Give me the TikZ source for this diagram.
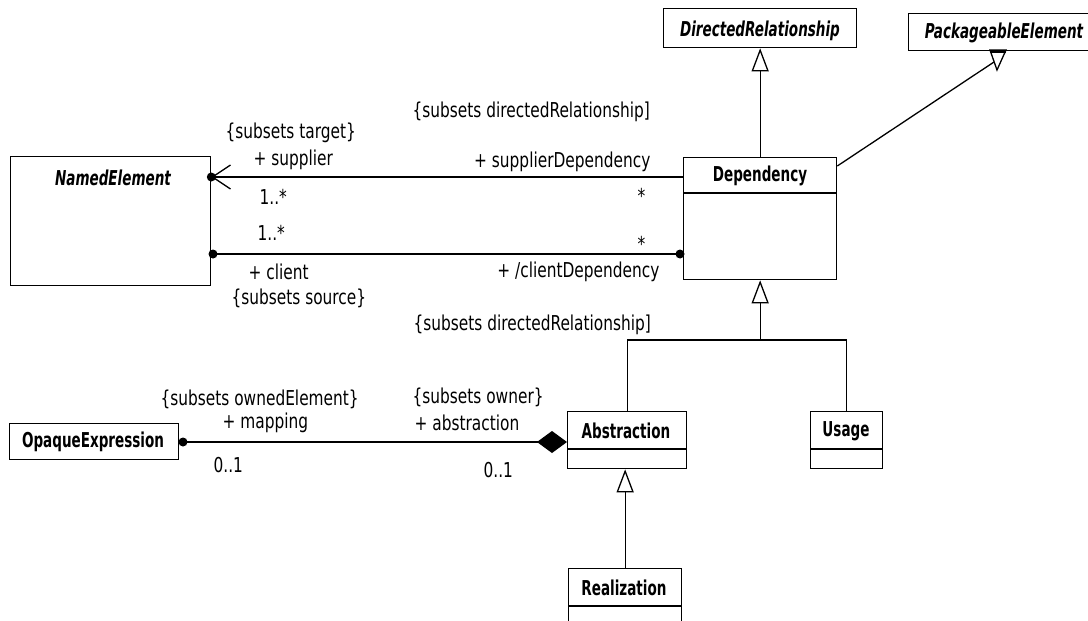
\documentclass[tikz,border=0pt]{standalone}
\usepackage{fontspec}
\setmainfont{DejaVu Sans}[FakeStretch=0.75]
\newfontfamily\clsfont{DejaVu Sans}[FakeStretch=0.66]
\usetikzlibrary{arrows.meta}
\tikzset{
  cls/.style={draw, fill=white, inner sep=0pt, anchor=north west},
  clsname/.style={font=\clsfont\bfseries\fontsize{20.5}{24}\selectfont, inner sep=0pt},
  absname/.style={font=\clsfont\bfseries\itshape\fontsize{20.5}{24}\selectfont, inner sep=0pt},
  lbl/.style={font=\fontsize{20.5}{24}\selectfont, inner sep=0pt, anchor=base west},
  lblr/.style={lbl, anchor=base east},
  gen/.style={-{Triangle[open,length=23pt,width=17pt]}},
  nav/.style={{Straight Barb[length=18pt,width=24pt]}-},
  dot/.style={fill, circle, inner sep=0pt, minimum size=9pt},
}
\begin{document}
\begin{tikzpicture}[x=1pt,y=-1pt,line width=1.3pt]
\useasboundingbox (0,0) rectangle (1088,621);
\clip (0,0) rectangle (1088,621);

% classes
\node[cls, minimum width=200pt, minimum height=129pt] (ne) at (10,156) {};
\node[absname] (netxt) at (113,178) {NamedElement};

\node[cls, minimum width=193pt, minimum height=39pt] (dr) at (663,8) {};
\node[absname] (drtxt) at (760,31) {DirectedRelationship};

\node[cls, minimum width=190pt, minimum height=37pt] (pe) at (908,13) {};
\node[absname] (petxt) at (1004,33) {PackageableElement};

\node[cls, minimum width=153pt, minimum height=122pt] (dep) at (683,157) {};
\node[clsname] (deptxt) at (760,176) {Dependency};
\draw (dep.west |- 0,193) -- (dep.east |- 0,193);

\node[cls, minimum width=119pt, minimum height=57pt] (abs) at (567,411) {};
\node[clsname] (abstxt) at (626,431) {Abstraction};
\draw (abs.west |- 0,449) -- (abs.east |- 0,449);

\node[cls, minimum width=72pt, minimum height=57pt] (usg) at (810,411) {};
\node[clsname] (usgtxt) at (846,431) {Usage};
\draw (usg.west |- 0,449) -- (usg.east |- 0,449);

\node[cls, minimum width=113pt, minimum height=70pt] (rea) at (568,568) {};
\node[clsname] (reatxt) at (624,588) {Realization};
\draw (rea.west |- 0,606) -- (rea.east |- 0,606);

\node[cls, minimum width=169pt, minimum height=36pt] (oe) at (9,423) {};
\node[clsname] (oetxt) at (93,442) {OpaqueExpression};

% generalizations
\draw[gen] (dep.north) -- (dr.south);
\coordinate (pet) at (994,62);
\draw (dep.east |- 0,166) -- (pet);
\filldraw[fill=white] (990,50) -- (1006,50) -- (997,70) -- cycle;
\draw[line width=3pt] (990,51) -- (1006,51);

\coordinate (gt) at (dep.south |- 0,340);
\draw[gen] (gt) -- (dep.south);
\draw (abs.north |- gt) -- (usg.north |- gt);
\draw (abs.north) -- (abs.north |- gt);
\draw (usg.north) -- (usg.north |- gt);
\draw[gen] (rea.north) -- (rea.north |- abs.south);

% supplier association
\draw[nav] (ne.east |- 0,177) -- (dep.west |- 0,177);
\node[dot] (d1) at (ne.east |- 0,177) {};
% client association
\draw (ne.east |- 0,254) -- (dep.west |- 0,254);
\node[dot] (d2) at (213,254) {};
\node[dot] (d3) at (680,254) {};
% mapping composition
\draw[nav, -{Diamond[length=30pt,width=22pt]}] (oe.east |- 0,442) -- (abs.west |- 0,442);
\node[dot] (d4) at (183,442) {};

% labels
\node[lbl] (l1) at (225,138) {\{subsets target\}};
\node[lbl] (l2) at (253,165) {+ supplier};
\node[lbl] (l3) at (259,204) {1..*};
\node[lbl] (l4) at (637,203) {*};
\node[lblr] (l5) at (651,167) {+ supplierDependency};
\node[lbl] (l6) at (412,117) {\{subsets directedRelationship]};

\node[lbl] (l7) at (257,240) {1..*};
\node[lbl] (l8) at (637,251) {*};
\node[lbl] (l9) at (248,279) {+ client};
\node[lblr] (l10) at (660,277) {+ /clientDependency};
\node[lbl] (l11) at (231,304) {\{subsets source\}};
\node[lbl] (l12) at (413,330) {\{subsets directedRelationship]};

\node[lbl] (l13) at (160,405) {\{subsets ownedElement\}};
\node[lbl] (l14) at (222,428) {+ mapping};
\node[lbl] (l15) at (213,472) {0..1};
\node[lbl] (l16) at (412,403) {\{subsets owner\}};
\node[lbl] (l17) at (414,430) {+ abstraction};
\node[lbl] (l18) at (483,477) {0..1};
\end{tikzpicture}
\end{document}
